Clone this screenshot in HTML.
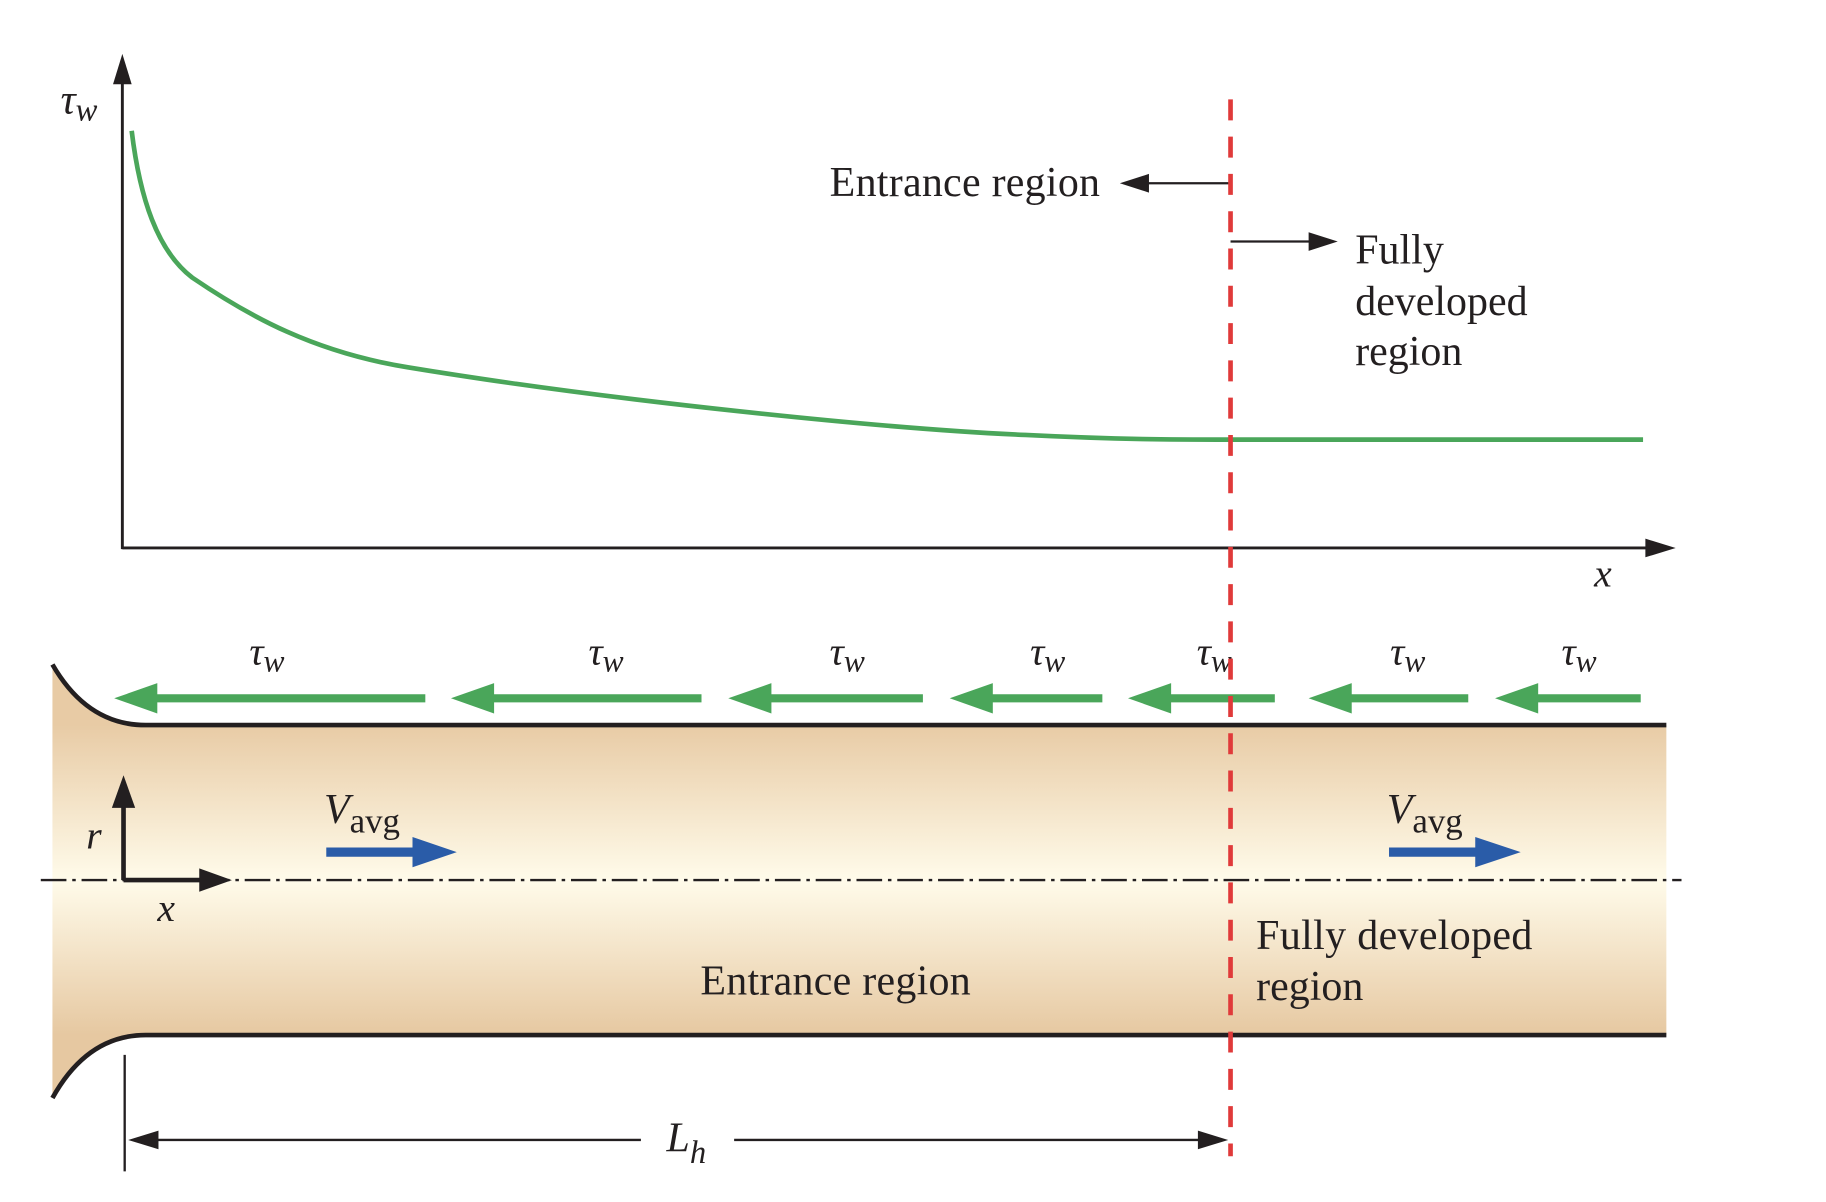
<!DOCTYPE html>
<html><head><meta charset="utf-8"><style>html,body{margin:0;padding:0;background:#fff}svg{display:block}</style></head>
<body>
<svg width="1826" height="1202" viewBox="0 0 1567 1031" xmlns="http://www.w3.org/2000/svg" font-family="'Liberation Serif', serif" fill="#231f20">
<defs>
<linearGradient id="g" x1="0" y1="622" x2="0" y2="888" gradientUnits="userSpaceOnUse">
<stop offset="0" stop-color="#e8cba5"/><stop offset="0.5" stop-color="#fffbea"/><stop offset="1" stop-color="#e6c8a1"/>
</linearGradient>
</defs>
<line x1="105" y1="471" x2="105" y2="65" stroke="#231f20" stroke-width="2.5"/>
<polygon points="105,46 97,72 113,72" fill="#231f20"/>
<line x1="105" y1="470" x2="1420" y2="470" stroke="#231f20" stroke-width="2.5"/>
<polygon points="1438,470 1412,462 1412,478" fill="#231f20"/>
<text x="52" y="97" font-size="36" font-style="italic">τ<tspan font-size="28" dy="6">w</tspan></text>
<text x="1368" y="503" font-size="34" font-style="italic">x</text>
<path d="M113,112 C120,170 135,215 165,238 C215,272 270,302 350,315 C520,343 760,368 880,373 C960,377 1010,377 1056,377 L1410,377" fill="none" stroke="#4aa65a" stroke-width="4"/>
<path d="M45,570 Q75,622 125,622 L1430,622 L1430,888 L125,888 Q75,888 45,942 Z" fill="url(#g)"/>
<path d="M45,570 Q75,622 125,622 L1430,622 M45,942 Q75,888 125,888 L1430,888" fill="none" stroke="#231f20" stroke-width="4"/>
<line x1="35" y1="755" x2="1443" y2="755" stroke="#231f20" stroke-width="2" stroke-dasharray="22,5,3,5"/>
<line x1="106" y1="755" x2="106" y2="690" stroke="#231f20" stroke-width="4"/>
<polygon points="106,665 96,693 116,693" fill="#231f20"/>
<line x1="106" y1="755" x2="175" y2="755" stroke="#231f20" stroke-width="4"/>
<polygon points="199,755 171,745 171,765" fill="#231f20"/>
<text x="74" y="728" font-size="34" font-style="italic">r</text>
<text x="135" y="790" font-size="34" font-style="italic">x</text>
<text x="278" y="706" font-size="36" font-style="italic">V<tspan font-style="normal" font-size="30" dy="8">avg</tspan></text>
<line x1="280" y1="731" x2="360" y2="731" stroke="#2a5ca8" stroke-width="8"/>
<polygon points="392,731 354,718 354,744" fill="#2a5ca8"/>
<text x="1190" y="706" font-size="36" font-style="italic">V<tspan font-style="normal" font-size="30" dy="8">avg</tspan></text>
<line x1="1192" y1="731" x2="1272" y2="731" stroke="#2a5ca8" stroke-width="8"/>
<polygon points="1305,731 1266,718 1266,744" fill="#2a5ca8"/>
<g fill="#4aa65a" stroke="#4aa65a">
<line x1="130" y1="599" x2="365" y2="599" stroke-width="7"/><polygon points="98,599 135,586 135,612" stroke="none"/>
<line x1="418" y1="599" x2="602" y2="599" stroke-width="7"/><polygon points="387,599 424,586 424,612" stroke="none"/>
<line x1="656" y1="599" x2="792" y2="599" stroke-width="7"/><polygon points="625,599 662,586 662,612" stroke="none"/>
<line x1="846" y1="599" x2="946" y2="599" stroke-width="7"/><polygon points="815,599 852,586 852,612" stroke="none"/>
<line x1="999" y1="599" x2="1094" y2="599" stroke-width="7"/><polygon points="968,599 1005,586 1005,612" stroke="none"/>
<line x1="1154" y1="599" x2="1260" y2="599" stroke-width="7"/><polygon points="1123,599 1160,586 1160,612" stroke="none"/>
<line x1="1314" y1="599" x2="1408" y2="599" stroke-width="7"/><polygon points="1283,599 1320,586 1320,612" stroke="none"/>
</g>
<g font-size="34" font-style="italic">
<text x="214" y="570">τ<tspan font-size="27" dy="6">w</tspan></text>
<text x="505" y="570">τ<tspan font-size="27" dy="6">w</tspan></text>
<text x="712" y="570">τ<tspan font-size="27" dy="6">w</tspan></text>
<text x="884" y="570">τ<tspan font-size="27" dy="6">w</tspan></text>
<text x="1027" y="570">τ<tspan font-size="27" dy="6">w</tspan></text>
<text x="1193" y="570">τ<tspan font-size="27" dy="6">w</tspan></text>
<text x="1340" y="570">τ<tspan font-size="27" dy="6">w</tspan></text>
</g>
<g font-size="36">
<text x="712" y="168" textLength="232">Entrance region</text>
<text x="1163" y="226">Fully</text>
<text x="1163" y="270">developed</text>
<text x="1163" y="313">region</text>
<text x="601" y="853" textLength="232">Entrance region</text>
<text x="1078" y="814" textLength="237">Fully developed</text>
<text x="1078" y="858">region</text>
</g>
<line x1="1056" y1="157" x2="980" y2="157" stroke="#231f20" stroke-width="2"/>
<polygon points="961,157 986,149 986,165" fill="#231f20"/>
<line x1="1056" y1="207" x2="1130" y2="207" stroke="#231f20" stroke-width="2"/>
<polygon points="1148,207 1123,199 1123,215" fill="#231f20"/>
<line x1="107" y1="905" x2="107" y2="1005" stroke="#231f20" stroke-width="2"/>
<line x1="125" y1="978" x2="550" y2="978" stroke="#231f20" stroke-width="2"/>
<line x1="630" y1="978" x2="1035" y2="978" stroke="#231f20" stroke-width="2"/>
<polygon points="110,978 136,970 136,986" fill="#231f20"/>
<polygon points="1054,978 1028,970 1028,986" fill="#231f20"/>
<text x="572" y="988" font-size="36" font-style="italic">L<tspan font-size="28" dy="10">h</tspan></text>
<line x1="1056" y1="85" x2="1056" y2="992" stroke="#e03a3a" stroke-width="4" stroke-dasharray="18,14"/>
</svg>
</body></html>
